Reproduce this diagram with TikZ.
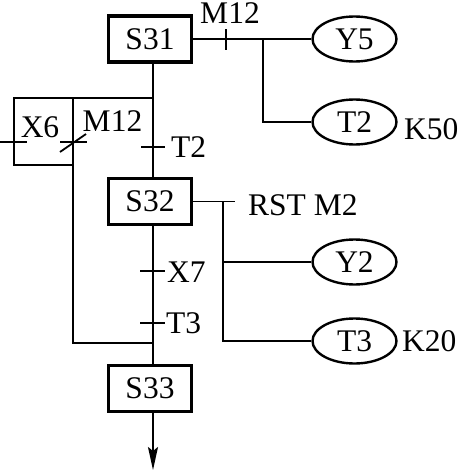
\documentclass[tikz,border=0pt]{standalone}
\usepackage{fontspec}
\setmainfont{Liberation Serif}
\usetikzlibrary{shapes.geometric,arrows.meta}
\begin{document}
\begin{tikzpicture}[x=1pt,y=-1pt,
  every node/.style={font=\fontsize{31.5}{36}\selectfont},
  stepbox/.style={draw,line width=3.2pt,minimum width=83pt,minimum height=46pt,inner sep=0pt},
  coil/.style={draw,ellipse,line width=2.4pt,minimum width=84pt,minimum height=45pt,inner sep=0pt},
  lbl/.style={inner sep=0pt},
  wire/.style={line width=1.8pt},
]
\useasboundingbox (0,0) rectangle (459,471);
% steps
\node[stepbox] (s31) at (150,39) {S31};
\node[stepbox] (s32) at (150,201.5) {S32};
\node[stepbox] (s33) at (150,388.5) {S33};
% coils
\node[coil] (y5) at (354.5,39) {Y5};
\node[coil] (t2) at (354.5,122) {T2};
\node[coil] (y2) at (354.5,262) {Y2};
\node[coil] (t3) at (354.5,341) {T3};
% main line
\coordinate (out) at (153,470);
\draw[wire] ([xshift=3pt]s31.south) -- ([xshift=3pt]s32.north);
\draw[wire] ([xshift=3pt]s32.south) -- ([xshift=3pt]s33.north);
\draw[wire,-{Stealth[length=23pt,width=10pt,inset=4pt]}] ([xshift=3pt]s33.south) -- (out);
% S31 outputs
\coordinate (j1) at (263,39);
\draw[wire] (s31.east) -- (y5.west);
\draw[wire] (j1) |- (t2.west);
\draw[wire] (226,29) -- (226,50);
\node[lbl] (m12a) at (230,13) {M12};
\node[lbl,anchor=west] (k50) at (404,129) {K50};
% left loop
\coordinate (a) at (153,98);
\coordinate (b) at (153,343);
\draw[wire] (a) -- (14,98) -- (14,165) -- (73,165);
\draw[wire] (73,98) -- (73,343) -- (b);
\draw[wire] (0,142) -- (27,142);
\draw[wire] (60,142) -- (87,142);
\draw[wire] (60,152) -- (86,134);
\node[lbl] (x6) at (40,127) {X6};
\node[lbl] (m12b) at (112.5,121) {M12};
% transitions on main line
\draw[wire] (141,147) -- (165,147);
\node[lbl,anchor=west] (lt2) at (171,147) {T2};
\draw[wire] (140,271) -- (165,271);
\node[lbl,anchor=west] (lx7) at (167,272) {X7};
\draw[wire] (140,323) -- (165,323);
\node[lbl,anchor=west] (lt3) at (166,323) {T3};
% S32 outputs
\coordinate (rst) at (235,201.5);
\coordinate (j2) at (223,201.5);
\coordinate (j3) at (223,262);
\draw[wire] (s32.east) -- (rst);
\draw[wire] (j2) |- (t3.west);
\draw[wire] (j3) -- (y2.west);
\node[lbl,anchor=west] (lrst) at (248,205) {RST M2};
\node[lbl,anchor=west] (k20) at (402,341) {K20};
\end{tikzpicture}
\end{document}
